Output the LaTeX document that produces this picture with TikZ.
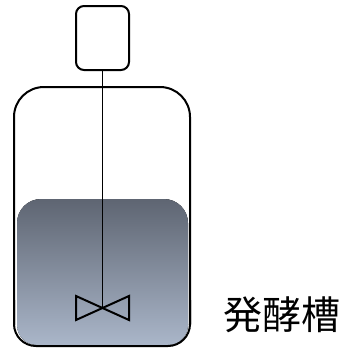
\documentclass[tikz,border=0pt]{standalone}
\usepackage{fontspec}
\newfontfamily\cjk{Noto Sans CJK JP}
\begin{document}
\begin{tikzpicture}[x=1pt,y=-1pt,
  outline/.style={draw=black,line width=2pt},
  liquid/.style={top color=liqtop,bottom color=liqbot,draw=none},
  label/.style={font=\cjk\fontsize{39}{39}\selectfont,inner sep=0pt,anchor=center}]
\definecolor{liqtop}{HTML}{5E6572}
\definecolor{liqbot}{HTML}{AAB6C9}
\useasboundingbox (0,0) rectangle (347,348);
% liquid inside the vessel
\fill[liquid] (17,270) [rounded corners=24pt] -- (17,199) -- (188,199) -- (188,270)
  [rounded corners=0pt] -- (188,280) [rounded corners=20pt] -- (188,345) -- (17,345) -- (17,270) -- cycle;
% vessel
\draw[outline,rounded corners=30pt] (14,325) -- (14,87) -- (190,87) -- (190,325);
\draw[outline,rounded corners=22pt] (14,300) -- (14,346) -- (190,346) -- (190,300);
% motor
\node[outline,rounded corners=8pt,minimum width=53pt,minimum height=64pt,inner sep=0pt] (motor) at (102.5,38) {};
% impeller
\coordinate (hub) at (102.5,308);
\draw[outline,line join=miter] (hub) -- (76,296) -- (76,320) -- cycle;
\draw[outline,line join=miter] (hub) -- (129,296) -- (129,320) -- cycle;
% shaft
\draw[line width=1pt] (motor.south) -- (hub);
\node[label] (name) at (281.5,315) {発酵槽};
\end{tikzpicture}
\end{document}
